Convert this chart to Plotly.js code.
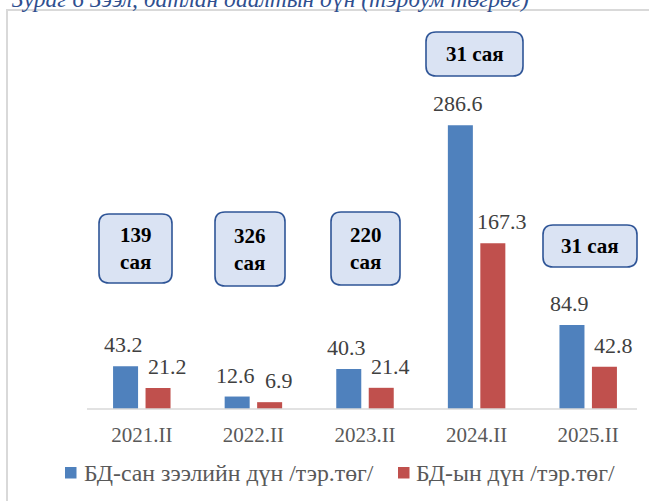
<!DOCTYPE html>
<html>
<head>
<meta charset="utf-8">
<script src="https://cdn.plot.ly/plotly-3.0.1.min.js"></script>
<style>html,body{margin:0;padding:0;background:#fff;}#chart{width:649px;height:501px;}</style>
</head>
<body>
<div id="chart"></div>
<script>
// ---- data ----
const categories = ["2021.II", "2022.II", "2023.II", "2024.II", "2025.II"];
const loanAmount = [43.2, 12.6, 40.3, 286.6, 84.9];      // БД-сан зээлийн дүн /тэр.төг/
const guaranteeAmount = [21.2, 6.9, 21.4, 167.3, 42.8];  // БД-ын дүн /тэр.төг/
const countNumbers = ["139", "326", "220", "31", "31"];
const countUnit = "сая";
const seriesNames = ["БД-сан зээлийн дүн /тэр.төг/", "БД-ын дүн /тэр.төг/"];
const titleText = "Зураг 6 Зээл, батлан даалтын дүн (тэрбум төгрөг)";

// ---- layout geometry ----
const W = 649, H = 501, L = 86, R = 5, T = 112, B = 92;
const plotW = W - L - R, plotH = H - T - B, baseY = H - B;
const px2x = px => (px - L) / plotW;
const py2y = py => (baseY - py) / plotH;

function roundRect(x0, y0, x1, y1, r) {
  const a = px2x(x0), b = px2x(x1), c = py2y(y0), d = py2y(y1);
  const rx = r / plotW, ry = r / plotH;
  return `M${a + rx},${c} L${b - rx},${c} Q${b},${c} ${b},${c - ry} L${b},${d + ry} Q${b},${d} ${b - rx},${d} L${a + rx},${d} Q${a},${d} ${a},${d + ry} L${a},${c - ry} Q${a},${c} ${a + rx},${c} Z`;
}

const boxRects = [
  [99, 214, 172, 283],
  [215, 212, 285, 286],
  [331, 212, 400, 285],
  [426, 32, 523, 76],
  [543, 225, 637, 267]
];
const boxTwoLine = [true, true, true, false, false];

const blue = "#4f81bd", red = "#c0504d";
const colors = [blue, red];
const serif = "Liberation Serif, Times New Roman, serif";

const traces = [
  { type: "bar", name: seriesNames[0], x: categories, y: loanAmount,
    marker: { color: blue }, hoverinfo: "none" },
  { type: "bar", name: seriesNames[1], x: categories, y: guaranteeAmount,
    marker: { color: red }, hoverinfo: "none" }
];

const slot = 32.5 / (plotW / 5);
const annotations = [];
categories.forEach((c, i) => {
  annotations.push({ x: i - slot / 2, y: loanAmount[i], xref: "x", yref: "y",
    text: loanAmount[i].toFixed(1), showarrow: false, yanchor: "bottom", yshift: 7, xshift: -2,
    font: { family: serif, size: 22, color: "#404040" } });
  annotations.push({ x: i + slot / 2, y: guaranteeAmount[i], xref: "x", yref: "y",
    text: guaranteeAmount[i].toFixed(1), showarrow: false, yanchor: "bottom", yshift: 7, xshift: 9,
    font: { family: serif, size: 22, color: "#404040" } });
});

const shapes = [];
boxRects.forEach((r, i) => {
  shapes.push({ type: "path", xref: "paper", yref: "paper", path: roundRect(r[0], r[1], r[2], r[3], 10),
    fillcolor: "#dae3f3", line: { color: "#2f5597", width: 1.6 } });
  const txt = boxTwoLine[i] ? countNumbers[i] + "<br>" + countUnit : countNumbers[i] + " " + countUnit;
  annotations.push({ xref: "paper", yref: "paper", x: px2x((r[0] + r[2]) / 2), y: py2y((r[1] + r[3]) / 2),
    xanchor: "center", yanchor: "middle", showarrow: false, text: "<b>" + txt + "</b>",
    font: { family: serif, size: 21, color: "#000" } });
});

// outer frame
shapes.push({ type: "rect", xref: "paper", yref: "paper", x0: px2x(7), y0: py2y(10), x1: px2x(700), y1: py2y(560),
  line: { color: "#d9d9d9", width: 2 }, fillcolor: "rgba(0,0,0,0)" });
// axis line
shapes.push({ type: "line", xref: "paper", yref: "paper", x0: px2x(87), x1: px2x(637), y0: 0, y1: 0,
  line: { color: "#d9d9d9", width: 1.5 } });

// legend (drawn with shapes + text)
const legendSquares = [[65, 467], [398, 467]];
const legendTextX = [82, 414];
seriesNames.forEach((n, k) => {
  const s = legendSquares[k];
  shapes.push({ type: "rect", xref: "paper", yref: "paper", x0: px2x(s[0]), x1: px2x(s[0] + 11.5),
    y0: py2y(s[1]), y1: py2y(s[1] + 11.5), fillcolor: colors[k], line: { width: 0 } });
  annotations.push({ xref: "paper", yref: "paper", x: px2x(legendTextX[k]), y: py2y(473),
    xanchor: "left", yanchor: "middle", showarrow: false, text: n,
    font: { family: serif, size: 23.8, color: "#595959" } });
});

// clipped caption on top
annotations.push({ xref: "paper", yref: "paper", x: px2x(10), y: py2y(14), xanchor: "left", yanchor: "bottom",
  showarrow: false, text: "<i>" + titleText + "</i>", font: { family: serif, size: 23.5, color: "#2f4f8f" } });

const layout = {
  width: W, height: H,
  margin: { l: L, r: R, t: T, b: B, pad: 0 },
  paper_bgcolor: "#fff", plot_bgcolor: "#fff",
  barmode: "group", bargap: 0.418, bargroupgap: 0.23,
  xaxis: { type: "category", showline: false, showgrid: false, zeroline: false, ticks: "",
    ticklabelstandoff: 11, tickfont: { family: serif, size: 21, color: "#595959" } },
  yaxis: { range: [0, 300], visible: false, showgrid: false, zeroline: false },
  showlegend: false,
  shapes: shapes, annotations: annotations
};

Plotly.newPlot("chart", traces, layout, { displayModeBar: false, staticPlot: true });
</script>
</body>
</html>
